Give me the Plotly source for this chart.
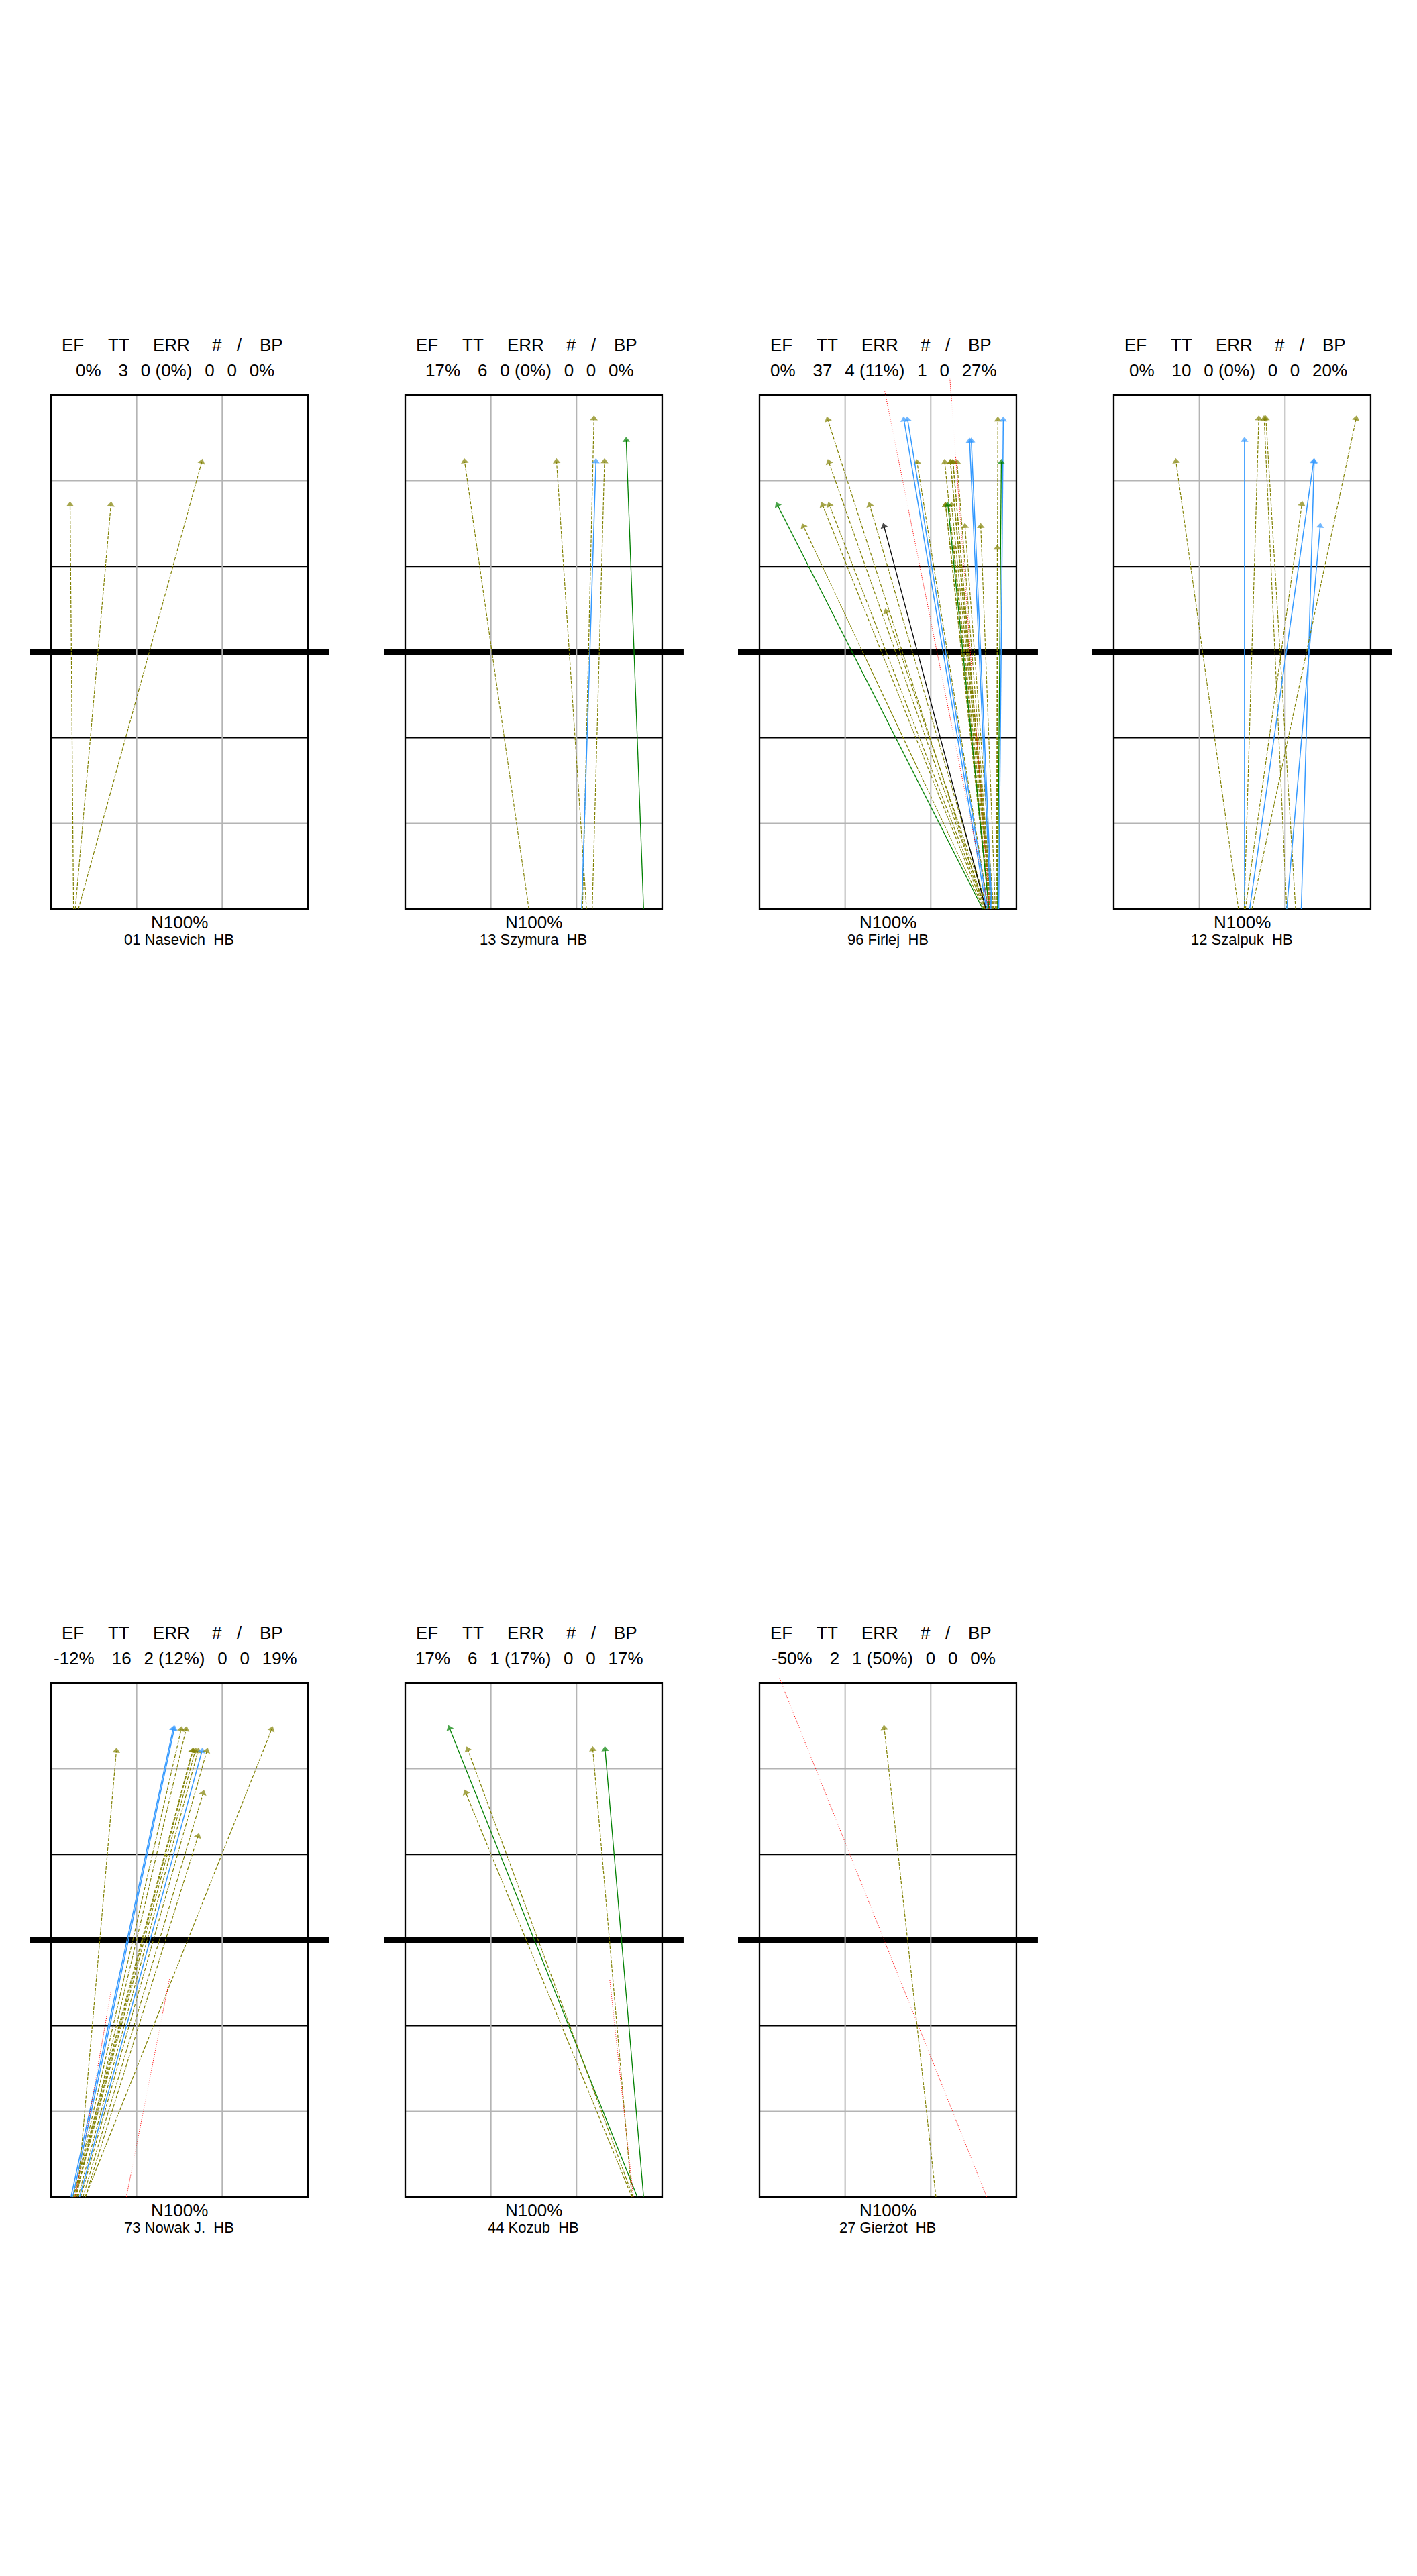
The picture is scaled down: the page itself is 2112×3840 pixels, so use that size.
import plotly.graph_objects as go

# ---------------- data ----------------
HEADER_LABELS = ["EF", "TT", "ERR", "#", "/", "BP"]
PLAYERS = ["01 Nasevich", "13 Szymura", "96 Firlej", "12 Szalpuk",
           "73 Nowak J.", "44 Kozub", "27 Gierżot"]
ROLES = ["HB", "HB", "HB", "HB", "HB", "HB", "HB"]
EF_VALUES = ["0%", "17%", "0%", "0%", "-12%", "17%", "-50%"]
TT_VALUES = ["3", "6", "37", "10", "16", "6", "2"]
ERR_VALUES = ["0 (0%)", "0 (0%)", "4 (11%)", "0 (0%)", "2 (12%)", "1 (17%)", "1 (50%)"]
HASH_VALUES = ["0", "0", "1", "0", "0", "0", "0"]
SLASH_VALUES = ["0", "0", "0", "0", "0", "0", "0"]
BP_VALUES = ["0%", "0%", "27%", "20%", "19%", "17%", "0%"]
ZONE_LABEL = "N100%"

# attacks: start x (on baseline), end x, end y, kind
# kinds: o = olive dashed, b = blue, g = green, k = black, r = red dotted (no arrow)
NASEVICH_SX = [0.79, 0.85, 0.96]
NASEVICH_EX = [0.67, 2.10, 5.28]
NASEVICH_EY = [14.16, 14.16, 15.66]
NASEVICH_K = ["o", "o", "o"]

SZYMURA_SX = [4.33, 6.35, 6.21, 6.18, 6.55, 8.35]
SZYMURA_EX = [2.08, 5.30, 6.61, 6.68, 6.98, 7.74]
SZYMURA_EY = [15.68, 15.68, 17.18, 15.68, 15.68, 16.42]
SZYMURA_K = ["o", "o", "o", "b", "o", "g"]

FIRLEJ_SX = [7.90, 7.93, 7.88, 7.92, 7.98, 7.86, 8.00, 8.02, 8.06, 8.10, 8.12, 8.14,
             8.08, 8.16, 8.20, 8.26, 8.12, 8.33, 8.30, 8.18, 8.04, 8.10,
             7.95, 8.00, 8.10, 8.14, 8.38,
             7.82, 8.04, 8.34,
             7.93,
             8.02, 8.06]
FIRLEJ_EX = [2.39, 2.43, 2.21, 2.45, 3.86, 1.54, 4.44, 5.52, 6.49, 6.69, 6.78, 6.92,
             6.52, 6.73, 7.20, 7.75, 6.81, 8.33, 8.35, 6.69, 6.52, 6.78,
             5.06, 5.19, 7.36, 7.42, 8.54,
             0.63, 6.60, 8.47,
             4.36,
             4.38, 6.67]
FIRLEJ_EY = [17.14, 15.65, 14.15, 14.15, 14.15, 13.41, 10.42, 15.65, 15.65, 15.65, 15.65, 15.65,
             14.15, 14.15, 13.41, 13.41, 12.65, 12.65, 17.14, 15.65, 14.15, 15.65,
             17.14, 17.14, 16.40, 16.40, 17.14,
             14.15, 14.15, 15.65,
             13.41,
             18.18, 18.57]
FIRLEJ_K = ["o"] * 22 + ["b"] * 5 + ["g"] * 3 + ["k"] + ["r"] * 2

SZALPUK_SX = [4.37, 4.58, 4.57, 6.06, 6.37, 4.76, 6.57, 6.06, 4.61, 4.84]
SZALPUK_EX = [2.18, 4.58, 5.08, 5.27, 5.33, 7.00, 7.02, 7.23, 6.59, 8.49]
SZALPUK_EY = [15.68, 16.42, 17.18, 17.18, 17.18, 15.68, 15.68, 13.42, 14.18, 17.18]
SZALPUK_K = ["o", "b", "o", "o", "o", "b", "b", "b", "o", "o"]

NOWAK_SX = [0.70, 0.76, 0.80, 0.88, 0.78, 0.83, 0.85, 0.95, 1.00, 1.04, 1.12, 1.20,
            0.92, 1.20, 2.64, 0.85]
NOWAK_EX = [4.28, 4.32, 4.56, 4.73, 4.95, 4.97, 5.05, 5.15, 5.29, 5.46, 5.33, 5.15,
            2.29, 7.73, 4.15, 2.10]
NOWAK_EY = [16.40, 16.40, 16.38, 16.38, 15.63, 15.63, 15.63, 15.63, 15.63, 15.63, 14.15, 12.64,
            15.63, 16.38, 7.64, 7.20]
NOWAK_K = ["b", "b", "o", "o", "o", "o", "o", "o", "b", "o", "o", "o",
           "o", "o", "r", "r"]

KOZUB_SX = [8.13, 7.98, 7.94, 7.94, 8.35, 7.99]
KOZUB_EX = [1.55, 2.19, 2.12, 6.57, 7.00, 7.16]
KOZUB_EY = [16.42, 15.68, 14.16, 15.68, 15.68, 7.64]
KOZUB_K = ["g", "o", "o", "o", "g", "r"]

GIERZOT_SX = [6.18, 7.96]
GIERZOT_EX = [4.37, 0.69]
GIERZOT_EY = [16.42, 18.20]
GIERZOT_K = ["o", "r"]

PANEL_ATTACKS = [
    (NASEVICH_SX, NASEVICH_EX, NASEVICH_EY, NASEVICH_K),
    (SZYMURA_SX, SZYMURA_EX, SZYMURA_EY, SZYMURA_K),
    (FIRLEJ_SX, FIRLEJ_EX, FIRLEJ_EY, FIRLEJ_K),
    (SZALPUK_SX, SZALPUK_EX, SZALPUK_EY, SZALPUK_K),
    (NOWAK_SX, NOWAK_EX, NOWAK_EY, NOWAK_K),
    (KOZUB_SX, KOZUB_EX, KOZUB_EY, KOZUB_K),
    (GIERZOT_SX, GIERZOT_EX, GIERZOT_EY, GIERZOT_K),
]

# ---------------- styling / layout ----------------
W, H = 2112, 3840
COLS, ROWS = 4, 2
CELL_W, CELL_H = W / COLS, H / ROWS
PXM = 42.55                       # pixels per metre
BOX_LEFT, BOX_BOTTOM = 76, 1355   # inside a cell (px from cell left/top)
XR = [-BOX_LEFT / PXM, (CELL_W - BOX_LEFT) / PXM]
YR = [-(CELL_H - BOX_BOTTOM) / PXM, BOX_BOTTOM / PXM]

STYLE = {
    "o": dict(color="#808000", dash="5px,2px", width=1.2, arrow=True),
    "b": dict(color="#3399FF", dash="solid", width=1.5, arrow=True),
    "g": dict(color="#008000", dash="solid", width=1.3, arrow=True),
    "k": dict(color="#000000", dash="solid", width=1.3, arrow=True),
    "r": dict(color="#FF0000", dash="1px,2px", width=1, arrow=False),
}

FONT = "Liberation Sans, Arial, sans-serif"
HEADER_X = [0.752, 2.374, 4.207, 5.805, 6.604, 7.709]
SEP1 = "\u00a0" * 3 + "\u2006"
SEP = "\u00a0" * 2 + "\u2006"

fig = go.Figure()
shapes = []
annotations = []

for i, (sx, ex, ey, kinds) in enumerate(PANEL_ATTACKS):
    idx = i + 1
    col, row = i % COLS, i // COLS
    xname = "x" if idx == 1 else f"x{idx}"
    yname = "y" if idx == 1 else f"y{idx}"
    xkey = "xaxis" if idx == 1 else f"xaxis{idx}"
    ykey = "yaxis" if idx == 1 else f"yaxis{idx}"
    ytop = 1 - row / ROWS
    fig.layout[xkey] = dict(domain=[col / COLS, (col + 1) / COLS], range=XR,
                            visible=False, fixedrange=True, anchor=yname)
    fig.layout[ykey] = dict(domain=[ytop - 1 / ROWS, ytop], range=YR,
                            visible=False, fixedrange=True, anchor=xname)

    # court lines
    def L(x0, y0, x1, y1, color, width):
        shapes.append(dict(type="line", xref=xname, yref=yname, x0=x0, y0=y0,
                           x1=x1, y1=y1, line=dict(color=color, width=width),
                           layer="below"))
    for yy in (3, 15):
        L(0, yy, 9, yy, "#B4B4B4", 1.5)
    for yy in (6, 12):
        L(0, yy, 9, yy, "#000000", 1.8)
    L(-0.752, 9, 9.752, 9, "#000000", 8)
    for xx in (3, 6):
        L(xx, 0, xx, 18, "#B4B4B4", 2)
    shapes.append(dict(type="rect", xref=xname, yref=yname, x0=0, y0=0, x1=9, y1=18,
                       line=dict(color="#000000", width=2.3), layer="below"))

    # attacks
    for s, e_x, e_y, k in zip(sx, ex, ey, kinds):
        st = STYLE[k]
        tr = dict(x=[s, e_x], y=[0, e_y], xaxis=xname, yaxis=yname,
                  line=dict(color=st["color"], width=st["width"], dash=st["dash"]),
                  hoverinfo="skip", showlegend=False)
        if st["arrow"]:
            tr.update(mode="lines+markers",
                      marker=dict(symbol="triangle-up", size=[0, 10], angleref="previous",
                                  color=st["color"], line=dict(width=0)))
        else:
            tr.update(mode="lines")
        fig.add_trace(go.Scatter(**tr))

    # texts
    for lab, hx in zip(HEADER_LABELS, HEADER_X):
        annotations.append(dict(xref=xname, yref=yname, x=hx, y=19.77, text=lab,
                                showarrow=False, xanchor="center", yanchor="middle",
                                font=dict(family=FONT, size=26, color="#000000")))
    vals = (EF_VALUES[i] + SEP1 + TT_VALUES[i] + SEP + ERR_VALUES[i] + SEP +
            HASH_VALUES[i] + SEP + SLASH_VALUES[i] + SEP + BP_VALUES[i])
    annotations.append(dict(xref=xname, yref=yname, x=4.35, y=18.87, text=vals,
                            showarrow=False, xanchor="center", yanchor="middle",
                            font=dict(family=FONT, size=26, color="#000000")))
    annotations.append(dict(xref=xname, yref=yname, x=4.5, y=-0.47, text=ZONE_LABEL,
                            showarrow=False, xanchor="center", yanchor="middle",
                            font=dict(family=FONT, size=26, color="#000000")))
    annotations.append(dict(xref=xname, yref=yname, x=4.5, y=-1.07,
                            text=PLAYERS[i] + "\u00a0\u00a0" + ROLES[i],
                            showarrow=False, xanchor="center", yanchor="middle",
                            font=dict(family=FONT, size=22, color="#000000")))

fig.update_layout(width=W, height=H, margin=dict(l=0, r=0, t=0, b=0),
                  paper_bgcolor="white", plot_bgcolor="white",
                  shapes=shapes, annotations=annotations, showlegend=False)

fig.write_html("out.html")
